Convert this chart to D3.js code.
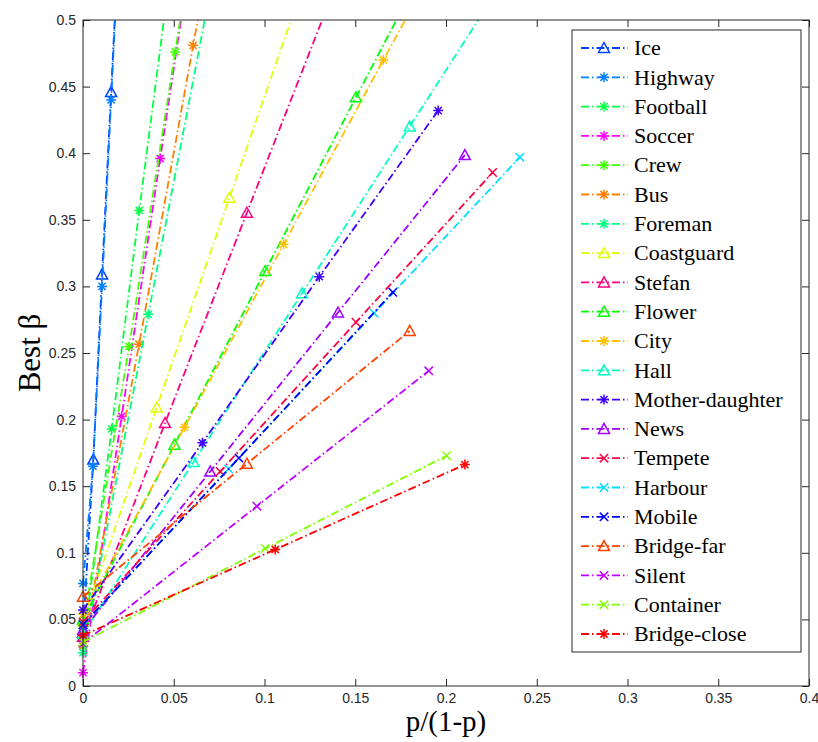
<!DOCTYPE html>
<html>
<head>
<meta charset="utf-8">
<script src="https://cdn.jsdelivr.net/npm/d3@7"></script>
<style>
  body { margin: 0; background: #fff; }
</style>
</head>
<body>
<div id="chart"></div>
<script>
// series names, in legend order
var seriesNames = ["Ice", "Highway", "Football", "Soccer", "Crew", "Bus", "Foreman",
  "Coastguard", "Stefan", "Flower", "City", "Hall", "Mother-daughter", "News",
  "Tempete", "Harbour", "Mobile", "Bridge-far", "Silent", "Container", "Bridge-close"];

// p/(1-p) values of each series
var seriesX = [
  [0, 0.0057, 0.0105, 0.0155, 0.0205],   // Ice
  [0, 0.0055, 0.0105, 0.0155, 0.0205],   // Highway
  [0, 0.0158, 0.031, 0.0465],            // Football
  [0, 0.0213, 0.0425, 0.064],            // Soccer
  [0, 0.0254, 0.0508, 0.0762],           // Crew
  [0, 0.0309, 0.0607, 0.091],            // Bus
  [0, 0.036, 0.072],                     // Foreman
  [0, 0.0406, 0.0807, 0.121],            // Coastguard
  [0, 0.0452, 0.0903, 0.1355],           // Stefan
  [0, 0.0504, 0.1004, 0.1504, 0.2004],   // Flower
  [0, 0.0559, 0.1105, 0.1655, 0.2205],   // City
  [0, 0.0609, 0.1207, 0.18, 0.24],       // Hall
  [0, 0.0658, 0.1302, 0.1957],           // Mother-daughter
  [0, 0.0701, 0.1405, 0.2104],           // News
  [0, 0.0756, 0.1504, 0.2257],           // Tempete
  [0, 0.0802, 0.1604, 0.2407],           // Harbour
  [0, 0.0859, 0.1707],                   // Mobile
  [0, 0.0903, 0.18],                     // Bridge-far
  [0, 0.0958, 0.1905],                   // Silent
  [0, 0.1004, 0.2003],                   // Container
  [0, 0.1059, 0.2104]                    // Bridge-close
];

// best beta values of each series
var seriesY = [
  [0.04, 0.17, 0.309, 0.446, 0.583],
  [0.077, 0.165, 0.300, 0.44, 0.58],
  [0.03, 0.193, 0.357, 0.52],
  [0.01, 0.2024, 0.396, 0.59],
  [0.045, 0.2549, 0.476, 0.70],
  [0.03, 0.2566, 0.481, 0.706],
  [0.025, 0.279, 0.535],
  [0.049, 0.2091, 0.3666, 0.525],
  [0.037, 0.1974, 0.3553, 0.513],
  [0.05, 0.1812, 0.3116, 0.442, 0.572],
  [0.054, 0.1942, 0.3316, 0.470, 0.607],
  [0.039, 0.1682, 0.2948, 0.420, 0.547],
  [0.057, 0.1826, 0.3073, 0.432],
  [0.042, 0.161, 0.2804, 0.3986],
  [0.048, 0.161, 0.2731, 0.3855],
  [0.046, 0.163, 0.2799, 0.397],
  [0.046, 0.1711, 0.2956],
  [0.067, 0.1669, 0.2666],
  [0.032, 0.135, 0.2366],
  [0.033, 0.1032, 0.1729],
  [0.038, 0.1025, 0.1662]
];

// styles
var seriesColors = ["#0040ff", "#0080ff", "#00ff40", "#ff00ff", "#40ff00", "#ff8000", "#00ff80",
  "#dfff00", "#ff0080", "#00ff00", "#ffbf00", "#00ffbf", "#4000ff", "#9f00ff",
  "#ff0040", "#00dfff", "#0000ff", "#ff4000", "#bf00ff", "#80ff00", "#ff0000"];
var seriesMarkers = ["tri", "star", "star", "star", "star", "star", "star",
  "tri", "tri", "tri", "star", "tri", "star", "tri",
  "x", "x", "x", "tri", "x", "x", "star"];

var xTicks = [0, 0.05, 0.1, 0.15, 0.2, 0.25, 0.3, 0.35, 0.4];
var yTicks = [0, 0.05, 0.1, 0.15, 0.2, 0.25, 0.3, 0.35, 0.4, 0.45, 0.5];

var markerPath = {
  tri: "M0,-5.5L5.5,4.5L-5.5,4.5Z",
  star: "M0,-5V5M-5,0H5M-3.6,-3.6L3.6,3.6M-3.6,3.6L3.6,-3.6",
  x: "M-4.2,-4.2L4.2,4.2M-4.2,4.2L4.2,-4.2"
};

var W = 818, H = 742;
var margin = {top: 20, right: 9, bottom: 56, left: 83},
    width = W - margin.left - margin.right,
    height = H - margin.top - margin.bottom;

var svg = d3.select("#chart")
  .append("svg")
    .attr("width", W)
    .attr("height", H)
  .append("g")
    .attr("transform", "translate(" + margin.left + "," + margin.top + ")");

var x = d3.scaleLinear().domain([0, 0.4]).range([0, width]);
var y = d3.scaleLinear().domain([0, 0.5]).range([height, 0]);

svg.append("defs").append("clipPath").attr("id", "clip")
  .append("rect").attr("width", width).attr("height", height);

var fmt = function(d) { return d3.format("")(+d.toFixed(2)); };

// axes with inward ticks
svg.append("g")
  .attr("transform", "translate(0," + height + ")")
  .call(d3.axisBottom(x).tickValues(xTicks).tickFormat(fmt).tickSize(-7).tickPadding(7));
svg.append("g")
  .call(d3.axisLeft(y).tickValues(yTicks).tickFormat(fmt).tickSize(-7).tickPadding(7));
svg.append("g")
  .call(d3.axisTop(x).tickValues(xTicks).tickFormat("").tickSize(-7));
svg.append("g")
  .attr("transform", "translate(" + width + ",0)")
  .call(d3.axisRight(y).tickValues(yTicks).tickFormat("").tickSize(-7));

svg.selectAll(".domain").remove();
svg.selectAll(".tick line").attr("stroke", "#262626");
svg.selectAll(".tick text")
  .style("font-family", "'Liberation Sans', Arial, sans-serif")
  .style("font-size", "14px")
  .style("fill", "#262626");

// lines
var line = d3.line()
  .x(function(d) { return x(d[0]); })
  .y(function(d) { return y(d[1]); });

var plot = svg.append("g");

seriesNames.forEach(function(name, i) {
  var pts = seriesX[i].map(function(v, j) { return [v, seriesY[i][j]]; });
  plot.append("path")
    .datum(pts)
    .attr("clip-path", "url(#clip)")
    .attr("d", line)
    .attr("fill", "none")
    .attr("stroke", seriesColors[i])
    .attr("stroke-width", 1.8)
    .attr("stroke-dasharray", "8,3,1.5,3");
  plot.selectAll(".m" + i)
    .data(pts.filter(function(d) { return d[1] <= 0.5 && d[0] <= 0.4; }))
    .enter()
    .append("path")
      .attr("transform", function(d) { return "translate(" + x(d[0]) + "," + y(d[1]) + ")"; })
      .attr("d", markerPath[seriesMarkers[i]])
      .attr("fill", "none")
      .attr("stroke", seriesColors[i])
      .attr("stroke-width", 1.5);
});

// box
svg.append("rect")
  .attr("width", width)
  .attr("height", height)
  .attr("fill", "none")
  .attr("stroke", "#262626")
  .attr("stroke-width", 1);

// axis labels
svg.append("text")
  .attr("transform", "translate(" + (40 - margin.left) + "," + (height / 2) + ") rotate(-90)")
  .attr("text-anchor", "middle")
  .style("font-family", "'Liberation Serif', 'Times New Roman', serif")
  .style("font-size", "31px")
  .text("Best \u03b2");

svg.append("text")
  .attr("x", width / 2)
  .attr("y", height + 45)
  .attr("text-anchor", "middle")
  .style("font-family", "'Liberation Serif', 'Times New Roman', serif")
  .style("font-size", "29px")
  .text("p/(1-p)");

// legend
var lx = 572 - margin.left, ly = 30 - margin.top, lw = 229, lh = 622;
var legend = svg.append("g").attr("transform", "translate(" + lx + "," + ly + ")");
legend.append("rect")
  .attr("width", lw)
  .attr("height", lh)
  .attr("fill", "#fff")
  .attr("stroke", "#262626")
  .attr("stroke-width", 1);

var rowY = d3.scaleLinear().domain([0, seriesNames.length - 1]).range([18, 604]);
seriesNames.forEach(function(name, i) {
  var g = legend.append("g").attr("transform", "translate(0," + rowY(i) + ")");
  g.append("line")
    .attr("x1", 9).attr("x2", 56)
    .attr("stroke", seriesColors[i])
    .attr("stroke-width", 1.8)
    .attr("stroke-dasharray", "8,3,1.5,3");
  g.append("path")
    .attr("transform", "translate(32,0)")
    .attr("d", markerPath[seriesMarkers[i]])
    .attr("fill", "none")
    .attr("stroke", seriesColors[i])
    .attr("stroke-width", 1.5);
  g.append("text")
    .attr("x", 62)
    .attr("dy", "0.33em")
    .style("font-family", "'Liberation Serif', 'Times New Roman', serif")
    .style("font-size", "22px")
    .text(name);
});
</script>
</body>
</html>
